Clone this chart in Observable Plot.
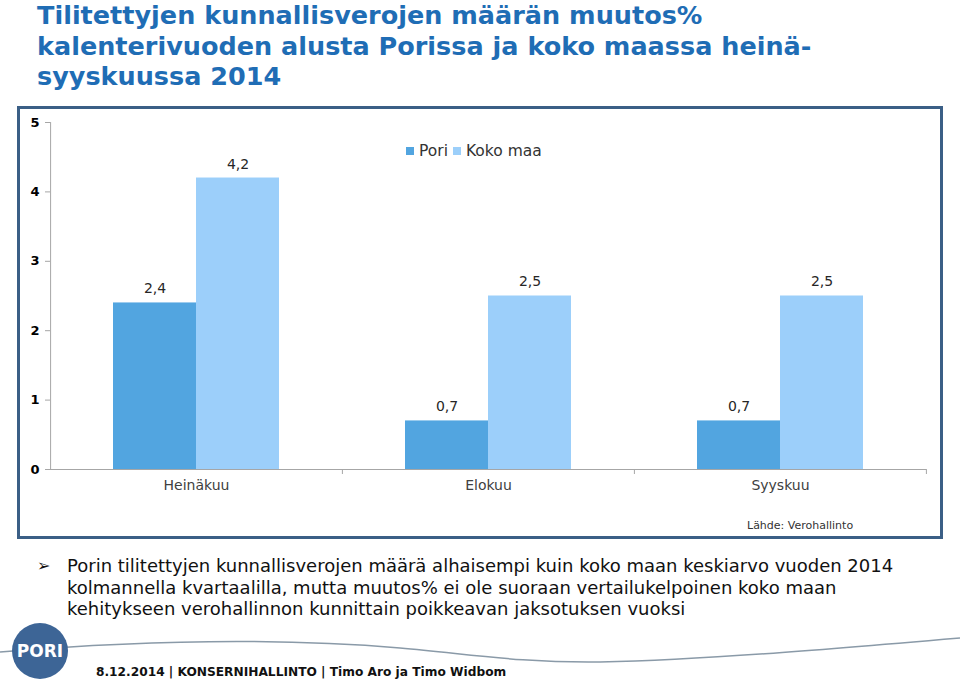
<!DOCTYPE html>
<html><head><meta charset="utf-8">
<script src="https://cdn.jsdelivr.net/npm/d3@7"></script>
<script src="https://cdn.jsdelivr.net/npm/@observablehq/plot@0.6"></script>
<style>
body{margin:0;width:960px;height:682px;position:relative;background:#fff;font-family:"DejaVu Sans",Verdana,sans-serif;overflow:hidden}
#title{position:absolute;left:37px;top:0px;font-size:25.5px;font-weight:bold;line-height:30.5px;color:#1f6db5;white-space:nowrap}
#frame{position:absolute;left:17px;top:106px;width:926px;height:433px;box-sizing:border-box;border:3px solid #3b5f86}
#chart{position:absolute;left:20px;top:109px}
#legend{position:absolute;left:406px;top:142px;font-size:15.5px;color:#333;white-space:nowrap;display:flex;align-items:center}
#legend span.sw{display:inline-block;width:8px;height:8px;margin-right:5px}
#source{position:absolute;left:747px;top:519px;font-size:11px;color:#333}
#bullets{position:absolute;left:37px;top:555px;font-size:18px;line-height:21.5px;color:#111;white-space:nowrap}
#bullets .arrow{position:absolute;left:0;top:0;font-size:16px}
#bullets .txt{margin-left:30px}
#footer{position:absolute;left:0;top:610px}
</style></head><body>
<div id="title">Tilitettyjen kunnallisverojen määrän muutos%<br>kalenterivuoden alusta Porissa ja koko maassa heinä-<br>syyskuussa 2014</div>
<div id="frame"></div>
<div id="chart"></div>
<div id="legend"></div>
<div id="source">Lähde: Verohallinto</div>
<div id="bullets"><span class="arrow">➢</span><div class="txt">Porin tilitettyjen kunnallisverojen määrä alhaisempi kuin koko maan keskiarvo vuoden 2014<br>kolmannella kvartaalilla, mutta muutos% ei ole suoraan vertailukelpoinen koko maan<br>kehitykseen verohallinnon kunnittain poikkeavan jaksotuksen vuoksi</div></div>
<svg id="footer" width="960" height="72">
  <path d="M0,42 C120,32 260,26 400,38 C470,44 520,53 600,52 C700,50 820,40 960,28" fill="none" stroke="#8a9aa8" stroke-width="1.5"/>
  <circle cx="40" cy="41" r="28" fill="#3d6596"/>
  <text x="40" y="47" text-anchor="middle" fill="#fff" font-family="DejaVu Sans" font-weight="bold" font-size="17">PORI</text>
  <text x="96" y="66" fill="#111" font-family="DejaVu Sans" font-weight="bold" font-size="12.2">8.12.2014 | KONSERNIHALLINTO | Timo Aro ja Timo Widbom</text>
</svg>
<script>
const months = ["Heinäkuu", "Elokuu", "Syyskuu"];
const series = ["Pori", "Koko maa"];
const pori = [2.4, 0.7, 0.7];
const kokoMaa = [4.2, 2.5, 2.5];
const yTicks = [0, 1, 2, 3, 4, 5];
const colors = ["#52a5e0", "#9ccffa"];

const data = months.flatMap((m, i) => [
  {month: m, series: series[0], value: pori[i]},
  {month: m, series: series[1], value: kokoMaa[i]}
]);

const W = 916, H = 400, ML = 29, MR = 10, MT = 13, MB = 40;
const outer = 0.75;
const facetW = (W - ML - MR) / months.length;
const step = facetW / (series.length + 2 * outer);
const edge = step * (0.5 + outer);
const fmt = v => v.toFixed(1).replace(".", ",");
const grey = "#a6a6a6";

const chart = Plot.plot({
  width: W, height: H,
  marginLeft: ML, marginRight: MR, marginTop: MT, marginBottom: MB,
  style: {fontFamily: "DejaVu Sans, Verdana, sans-serif", fontSize: "14px", color: "#333", background: "transparent", overflow: "visible"},
  fx: {domain: months, padding: 0, label: null},
  x: {domain: series, paddingInner: 0, paddingOuter: outer, axis: null},
  y: {domain: [0, 5]},
  color: {domain: series, range: colors},
  marks: [
    Plot.barY(data, {fx: "month", x: "series", y: "value", fill: "series", inset: 0}),
    Plot.ruleY([0], {stroke: grey}),
    Plot.ruleX([series[0]], {x: d => d, fx: () => months[0], y1: 0, y2: 5, dx: -edge, stroke: grey}),
    Plot.ruleX(months, {fx: d => d, x: () => series[1], y1: 0, y2: 0, insetBottom: -5, dx: edge, stroke: grey}),
    Plot.axisY(yTicks, {tickSize: 5, tickPadding: 6, tickFormat: d => String(d), fontWeight: "bold", fontSize: 13, stroke: grey, fill: "#000", label: null}),
    Plot.axisFx({anchor: "bottom", tickSize: 0, tickPadding: 11, fontSize: 14, fill: "#404040", label: null}),
    Plot.text(data, {fx: "month", x: "series", y: "value", text: d => fmt(d.value), dy: -14, fontSize: 14, fill: "#262626"})
  ]
});
document.getElementById("chart").appendChild(chart);

const legend = document.getElementById("legend");
series.forEach((s, i) => {
  const item = document.createElement("span");
  item.style.display = "inline-flex";
  item.style.alignItems = "center";
  item.style.marginRight = "5px";
  item.innerHTML = `<span class="sw" style="background:${colors[i]}"></span>${s}`;
  legend.appendChild(item);
});
</script>
</body></html>
